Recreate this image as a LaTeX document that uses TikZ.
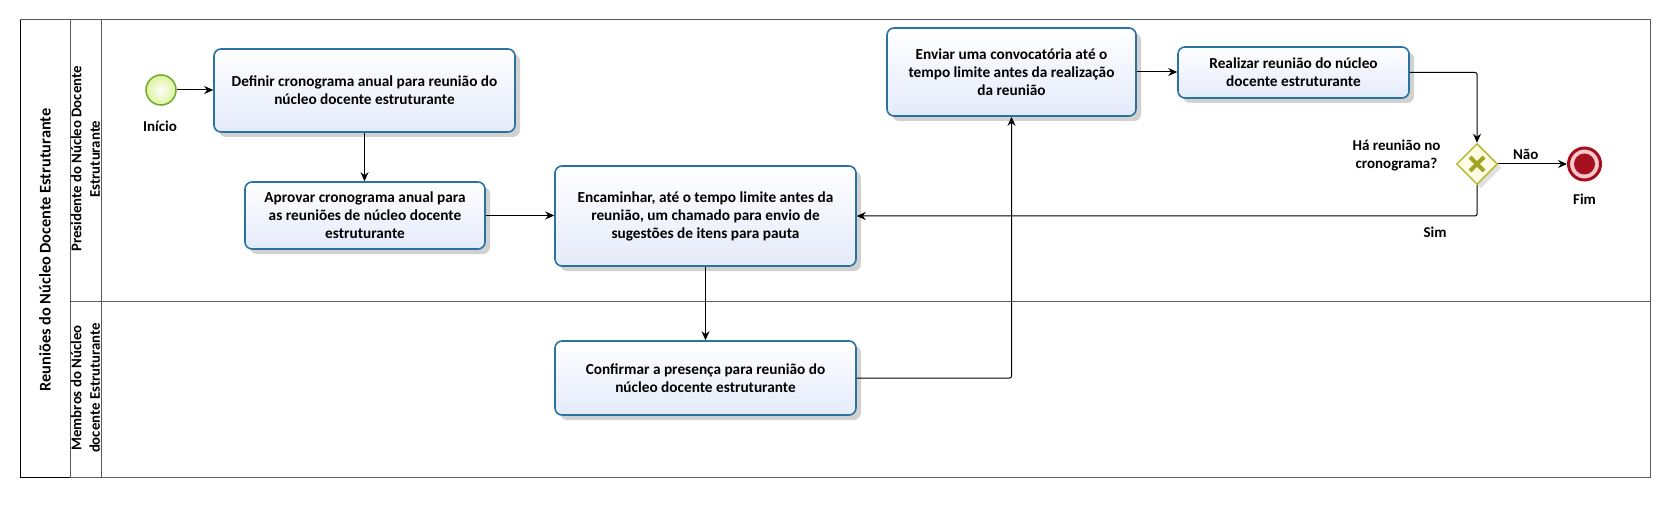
\documentclass[tikz,border=0pt]{standalone}
\usepackage{fontspec}
\setmainfont{Carlito}
\usetikzlibrary{shapes.geometric, shadows, arrows.meta}

\definecolor{taskline}{HTML}{2A72A0}
\definecolor{taskfill}{HTML}{E4EAFA}
\definecolor{startline}{HTML}{6BAA2A}
\definecolor{startfill}{HTML}{DDF29A}
\definecolor{endline}{HTML}{A50F1E}
\definecolor{endfill}{HTML}{F6C8CC}
\definecolor{gateline}{HTML}{B8B838}
\definecolor{gatefill}{HTML}{FFFDE2}
\definecolor{gatecross}{HTML}{A3A325}
\definecolor{poolline}{HTML}{5A5A5A}

\tikzset{
  task/.style={draw=taskline, line width=1.6pt, rounded corners=7pt,
    top color=white, bottom color=taskfill, align=center, inner sep=0pt,
    font=\bfseries\fontsize{15.3}{18}\selectfont,
    drop shadow={shadow xshift=5pt, shadow yshift=-5pt, fill=black!40, opacity=0.45}},
  flow/.style={-{Stealth[length=9pt,width=8pt]}, line width=1pt, rounded corners=2pt},
  lbl/.style={font=\bfseries\fontsize{15}{18}\selectfont, align=center},
  lanelbl/.style={font=\bfseries\fontsize{14.8}{18.5}\selectfont, align=center, rotate=90}
}

\begin{document}
\begin{tikzpicture}[x=1pt, y=-1pt]
    \useasboundingbox (0,0) rectangle (1670,505);

    % Pool and lanes
    \draw[poolline, line width=1pt] (20,20) rectangle (1650,477);
    \draw[black, line width=1pt] (20,20) -- (20,477) -- (70,477);
    \draw[poolline, line width=1pt] (70,20) -- (70,477);
    \draw[poolline, line width=1pt] (101,20) -- (101,477);
    \draw[poolline, line width=1pt] (70,301) -- (1650,301);
    \node[lanelbl, font=\bfseries\fontsize{16.3}{19}\selectfont] (pool) at (45,250) {Reuniões do Núcleo Docente Estruturante};
    \node[lanelbl] (lanepres) at (85.5,159) {Presidente do Núcleo Docente\\Estruturante};
    \node[lanelbl] (lanememb) at (85.5,388) {Membros do Núcleo\\docente Estruturante};

    % Start event
    \node[circle, draw=startline, line width=1.5pt, inner color=white, outer color=startfill,
          minimum size=30pt, inner sep=0pt] (inicio) at (161,90) {};
    \node[lbl] (inicioLbl) at (160,126) {Início};

    % Tasks of the president
    \node[task, minimum width=301pt, minimum height=83pt] (definir) at (364.5,90.5)
        {Definir cronograma anual para reunião do\\núcleo docente estruturante};
    \node[task, minimum width=240pt, minimum height=67pt] (aprovar) at (365,215.5)
        {Aprovar cronograma anual para\\as reuniões de núcleo docente\\estruturante};
    \node[task, minimum width=301pt, minimum height=100pt] (encaminhar) at (705.5,216)
        {Encaminhar, até o tempo limite antes da\\reunião, um chamado para envio de\\sugestões de itens para pauta};
    \node[task, minimum width=249pt, minimum height=88pt] (enviar) at (1011.5,72)
        {Enviar uma convocatória até o\\tempo limite antes da realização\\da reunião};
    \node[task, minimum width=231pt, minimum height=51pt] (realizar) at (1293.5,72.5)
        {Realizar reunião do núcleo\\docente estruturante};

    % Task of the members
    \node[task, minimum width=301pt, minimum height=74pt] (confirmar) at (705.5,378)
        {Confirmar a presença para reunião do\\núcleo docente estruturante};

    % Gateway
    \node[diamond, draw=gateline, line width=1.5pt, fill=gatefill, aspect=1,
          minimum size=41pt, inner sep=0pt,
          drop shadow={shadow xshift=4pt, shadow yshift=-4pt, fill=black!30, opacity=0.4}] (gw) at (1477,164) {};
    \draw[gatecross, line width=4pt] ([shift={(-7,-7)}]gw.center) -- ([shift={(7,7)}]gw.center);
    \draw[gatecross, line width=4pt] ([shift={(-7,7)}]gw.center) -- ([shift={(7,-7)}]gw.center);
    \node[lbl] (gwLbl) at (1396.5,156) {Há reunião no\\cronograma?};

    % End event
    \node[circle, draw=endline, line width=3pt, fill=endfill, minimum size=32pt, inner sep=0pt] (fim) at (1584.5,164) {};
    \fill[endline] (fim.center) circle (10.5pt);
    \node[lbl] (fimLbl) at (1584.5,199) {Fim};

    % Sequence flows
    \draw[flow] (inicio.east) -- (inicio.east -| definir.west);
    \draw[flow] (definir.south) -- (definir.south |- aprovar.north);
    \draw[flow] (aprovar.east) -- (aprovar.east -| encaminhar.west);
    \draw[flow] (encaminhar.south) -- (encaminhar.south |- confirmar.north);
    \draw[flow] (confirmar.east) -| (enviar.south);
    \draw[flow] (enviar.east) -- (enviar.east -| realizar.west);
    \draw[flow] (realizar.east) -| (gw.north);
    \draw[flow] (gw.east) -- (fim.west) node[lbl, pos=0.4, above=1pt] (nao) {Não};
    \draw[flow] (gw.south) |- (encaminhar.east);
    \node[lbl] (sim) at (1435,232) {Sim};
\end{tikzpicture}
\end{document}
